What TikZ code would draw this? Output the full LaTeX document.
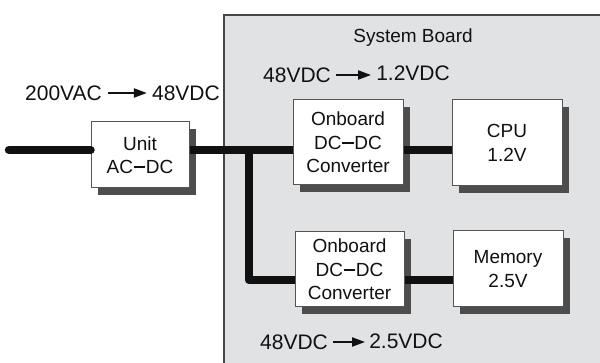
\documentclass[tikz,border=0pt]{standalone}
\usepackage{fontspec}
\setmainfont{Liberation Sans}
\usetikzlibrary{arrows.meta,shadows}
\definecolor{boardfill}{HTML}{E1E2E4}
\definecolor{boardline}{HTML}{454545}
\definecolor{shadowc}{HTML}{4D4D4D}
\definecolor{boxline}{HTML}{555555}
\definecolor{ink}{HTML}{111111}
% heavy dash used in "DC-DC" and "AC-DC"
\newcommand\heavydash{\kern0.03em\rule[0.29em]{0.62em}{0.09em}\kern0.03em}
\tikzset{
  unitbox/.style={draw=boxline, line width=1pt, fill=white, align=center,
    font=\fontsize{19}{23.5}\selectfont, text=ink, inner sep=0pt,
    general shadow={fill=shadowc, shadow xshift=7pt, shadow yshift=-7pt}},
  powerline/.style={line width=8.5pt, draw=ink, line join=round},
  volt/.style={font=\fontsize{21}{24}\selectfont, text=ink, inner sep=0pt},
  convarrow/.style={draw=ink, line width=2pt, -{Triangle[length=13pt,width=9pt]}}
}
\begin{document}
\begin{tikzpicture}[x=1pt,y=-1pt]
\useasboundingbox (0,0) rectangle (600,363);
% system board
\draw[fill=boardfill, draw=boardline, line width=1.5pt] (224,15) rectangle (603,366);
\node[font=\fontsize{19}{22}\selectfont, text=ink] (board) at (413,38) {System Board};

% boxes
\node[unitbox, minimum width=98pt, minimum height=66pt] (unit) at (140,155) {Unit\\AC\heavydash DC};
\node[unitbox, minimum width=110pt, minimum height=85pt] (conv1) at (348,142.5) {Onboard\\DC\heavydash DC\\Converter};
\node[unitbox, minimum width=110pt, minimum height=86pt] (cpu) at (507,143) {CPU\\1.2V};
\node[unitbox, minimum width=109pt, minimum height=75pt] (conv2) at (349.5,269.5) {Onboard\\DC\heavydash DC\\Converter};
\node[unitbox, minimum width=110pt, minimum height=76pt] (mem) at (508,269) {Memory\\2.5V};

% power distribution
\coordinate (src) at (9,150);
\coordinate (bus) at (249,150);
\coordinate (mbus) at (249,280);
\draw[powerline, line cap=round] (src) -- (unit.west |- src);
\draw[powerline] (unit.east |- src) -- (conv1.west |- src);
\draw[powerline] (conv1.east |- src) -- (cpu.west |- src);
\draw[powerline] (bus) -- (mbus) -- (conv2.west |- mbus);
\draw[powerline] (conv2.east |- mbus) -- (mem.west |- mbus);

% conversion labels
\node[volt, anchor=west] (acin) at (25,93) {200VAC};
\node[volt, anchor=east] (acout) at (220,93) {48VDC};
\draw[convarrow] ([xshift=6pt]acin.east) -- ([xshift=-5pt]acout.west);

\node[volt, anchor=west] (c1in) at (263,75) {48VDC};
\node[volt, anchor=east] (c1out) at (450,73) {1.2VDC};
\draw[convarrow] ([xshift=5pt]c1in.east |- 0,75) -- ([xshift=-5pt]c1out.west |- 0,75);

\node[volt, anchor=west] (c2in) at (260,342) {48VDC};
\node[volt, anchor=east] (c2out) at (443,341) {2.5VDC};
\draw[convarrow] ([xshift=5pt]c2in.east |- 0,342) -- ([xshift=-4pt]c2out.west |- 0,342);
\end{tikzpicture}
\end{document}
